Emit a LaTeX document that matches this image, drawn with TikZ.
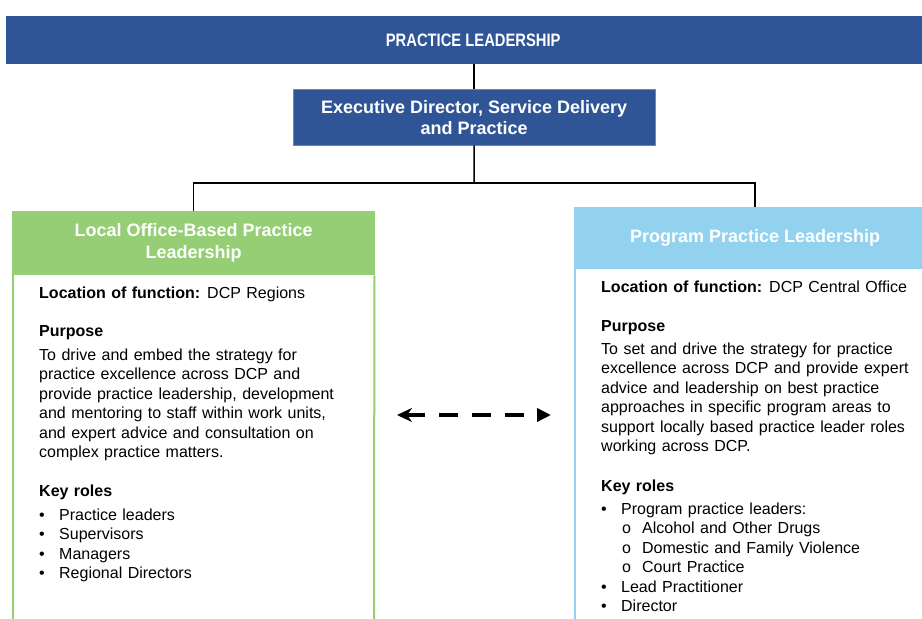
\documentclass[tikz,border=0pt]{standalone}
\usepackage{fontspec}
\setmainfont{Liberation Sans}
\newfontfamily\narrowfont[FakeStretch=0.82]{Liberation Sans}
\usetikzlibrary{arrows.meta}

\definecolor{navy}{RGB}{47,85,151}
\definecolor{leafgreen}{RGB}{149,206,116}
\definecolor{skyblue}{RGB}{146,210,238}

% body text: slightly wider word spaces
\newcommand{\bodyfont}{\fontsize{16}{19.5}\selectfont\spaceskip=5.45pt plus 1pt minus 1pt\relax}

\tikzset{
  banner/.style={fill=navy, text=white, inner sep=0pt, font=\narrowfont\bfseries\fontsize{18}{20}\selectfont},
  execbox/.style={fill=navy, draw=navy!70!white, text=white, inner sep=0pt, align=center,
    font=\bfseries\fontsize{18}{21}\selectfont},
  header/.style={inner sep=0pt, text=white, align=center, font=\bfseries\fontsize{18}{22}\selectfont},
  body/.style={inner sep=0pt, align=left, font=\bodyfont},
  heading/.style={inner sep=0pt, font=\bodyfont\bfseries},
  link/.style={line width=1.5pt, black},
  side/.style={line width=2pt},
}

\newcommand{\itm}[1]{\makebox[20pt][l]{\textbullet}#1}
\newcommand{\ritm}[1]{\makebox[20pt][l]{\textbullet}#1}
\newcommand{\sitm}[1]{\hspace*{21pt}\makebox[20pt][l]{o}#1}

\begin{document}
\begin{tikzpicture}[x=1pt,y=-1pt]
\useasboundingbox[fill=white] (0,0) rectangle (922,619);

% top banner and executive box
\node[banner, minimum width=934pt, minimum height=48pt, anchor=north west] (top) at (6,16) {PRACTICE LEADERSHIP};
\node[execbox, minimum width=362pt, minimum height=56pt, anchor=north west] (exec) at (293,89)
  {Executive Director, Service Delivery\\and Practice};

% the two function boxes
\node[header, fill=leafgreen, minimum width=363pt, minimum height=64pt, anchor=north west] (lhdr) at (12,211)
  {Local Office-Based Practice\\Leadership};
\node[header, fill=skyblue, minimum width=362pt, minimum height=62pt, anchor=north west] (rhdr) at (574,207)
  {Program Practice Leadership};
\coordinate (lbot) at (12,640);
\coordinate (lbotr) at (374,640);
\coordinate (rbot) at (575,640);
\draw[side, leafgreen] ([xshift=1pt]lhdr.south west) -- ([xshift=1pt]lbot);
\draw[side, leafgreen] ([xshift=-1pt]lhdr.south east) -- (lbotr);
\draw[side, skyblue] ([xshift=1pt]rhdr.south west) -- (rbot);

% reporting lines
\draw[link] (exec.north |- top.south) -- (exec.north);
\coordinate (split) at (474,183);
\draw[link] (exec.south) -- (split);
\draw[link] (lhdr.north) |- (split) -| (rhdr.north);

% left box text
\node[anchor=base west, inner sep=0pt, font=\bodyfont] (lloc) at (39,298)
  {\textbf{Location of function:} DCP Regions};
\node[heading, anchor=base west] (lpur) at (39,336) {Purpose};
\node[body, anchor=north west] (lpara) at (39,348.3)
  {To drive and embed the strategy for\\
   practice excellence across DCP and\\
   provide practice leadership, development\\
   and mentoring to staff within work units,\\
   and expert advice and consultation on\\
   complex practice matters.};
\node[heading, anchor=base west] (lkey) at (39,496) {Key roles};
\node[body, anchor=north west] (llist) at (39,508.3)
  {\itm{Practice leaders}\\
   \itm{Supervisors}\\
   \itm{Managers}\\
   \itm{Regional Directors}};

% right box text
\node[anchor=base west, inner sep=0pt, font=\bodyfont] (rloc) at (601,292)
  {\textbf{Location of function:} DCP Central Office};
\node[heading, anchor=base west] (rpur) at (601,331) {Purpose};
\node[body, anchor=north west] (rpara) at (601,342.3)
  {To set and drive the strategy for practice\\
   excellence across DCP and provide expert\\
   advice and leadership on best practice\\
   approaches in specific program areas to\\
   support locally based practice leader roles\\
   working across DCP.};
\node[heading, anchor=base west] (rkey) at (601,491) {Key roles};
\node[body, anchor=north west] (rlist) at (601,502.3)
  {\ritm{Program practice leaders:}\\
   \sitm{Alcohol and Other Drugs}\\
   \sitm{Domestic and Family Violence}\\
   \sitm{Court Practice}\\
   \ritm{Lead Practitioner}\\
   \ritm{Director}};

% two-way link between the functions
\coordinate (la) at (397,415);
\coordinate (ra) at (551,415);
\draw[line width=4pt, dash pattern=on 19pt off 14pt,
  {Stealth[length=15pt,width=14pt]}-{Triangle[length=14pt,width=13pt]}] (la) -- (ra);
\end{tikzpicture}
\end{document}
